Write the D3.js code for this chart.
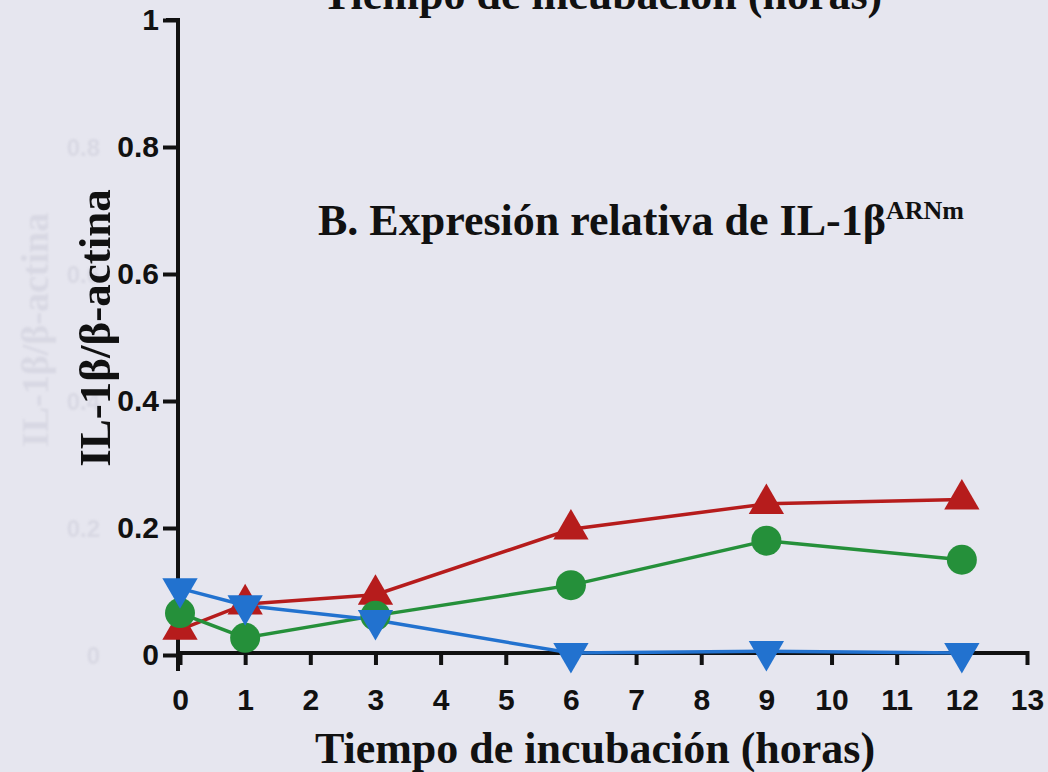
<!DOCTYPE html>
<html>
<head>
<meta charset="utf-8">
<script src="https://cdn.jsdelivr.net/npm/d3@7"></script>
<style>
  html, body { margin: 0; padding: 0; background: #e6e6ef; }
  svg { display: block; }
</style>
</head>
<body>
<svg id="chart" width="1048" height="772"></svg>
<script>
// Incubation times (hours) and IL-1β/β-actin ratios for the three conditions
const hours = [0, 1, 3, 6, 9, 12];
const redValues = [0.04, 0.08, 0.095, 0.198, 0.238, 0.245];
const greenValues = [0.066, 0.027, 0.062, 0.11, 0.18, 0.15];
const blueValues = [0.105, 0.078, 0.055, 0.003, 0.006, 0.003];
const xTicks = [0, 1, 2, 3, 4, 5, 6, 7, 8, 9, 10, 11, 12, 13];
const yTicks = [0, 0.2, 0.4, 0.6, 0.8, 1];
const yTickLabels = ["0", "0.2", "0.4", "0.6", "0.8", "1"];

const svg = d3.select("#chart");
const x = d3.scaleLinear().domain([0, 13]).range([180, 1027]);
const y = d3.scaleLinear().domain([0, 1]).range([655, 20]);

const serif = "'Liberation Serif', 'Times New Roman', serif";
const sans = "'Liberation Sans', Arial, sans-serif";

svg.append("rect").attr("width", 1048).attr("height", 772).attr("fill", "#e6e6ef");

// faint show-through of the facing page (left margin only)
const defs = svg.append("defs");
defs.append("filter").attr("id", "soft").append("feGaussianBlur").attr("stdDeviation", 1);
const ghost = svg.append("g").attr("fill", "#d8d8e3").attr("filter", "url(#soft)");
ghost.selectAll("text.gy").data(yTicks.slice(0, 5)).join("text")
  .attr("x", 100).attr("y", d => y(d) + 9)
  .attr("text-anchor", "end")
  .style("font", `bold 24px ${sans}`)
  .text((d, i) => yTickLabels[i]);
ghost.append("text")
  .attr("transform", "translate(48,330) rotate(-90)")
  .attr("text-anchor", "middle")
  .style("font", `bold 38px ${serif}`)
  .text("IL-1β/β-actina");

// partial axis title at the top (cut by the frame)
svg.append("text")
  .attr("x", 322).attr("y", 9)
  .attr("fill", "#111")
  .style("font", `bold 44px ${serif}`)
  .text("Tiempo de incubación (horas)");

// axes
const axisColor = "#111";
const yAxis = svg.append("g")
  .attr("transform", `translate(${x(0) - 2},0)`)
  .call(d3.axisLeft(y).tickValues(yTicks).tickSize(15).tickPadding(4)
    .tickFormat((d, i) => yTickLabels[i]));
const xAxis = svg.append("g")
  .attr("transform", `translate(0,${y(0) - 2})`)
  .call(d3.axisBottom(x).tickValues(xTicks).tickSize(12).tickPadding(24));
[xAxis, yAxis].forEach(g => {
  g.select(".domain").attr("stroke", axisColor).attr("stroke-width", 4);
  g.selectAll(".tick line").attr("stroke", axisColor).attr("stroke-width", 4);
  g.selectAll("text").attr("fill", axisColor)
    .style("font", `bold 30px ${sans}`);
});
xAxis.selectAll(".tick line").attr("y1", -2);
yAxis.select(".domain").attr("d", `M-12,${y(1)}H0V${y(0) + 16}`);
xAxis.select(".domain").attr("d", `M${x(0) - 2},0H${x(13)}`);

// axis titles
svg.append("text")
  .attr("transform", "translate(110,328) rotate(-90)")
  .attr("text-anchor", "middle")
  .attr("fill", "#111")
  .style("font", `bold 45px ${serif}`)
  .text("IL-1β/β-actina");
svg.append("text")
  .attr("x", 595).attr("y", 763)
  .attr("text-anchor", "middle")
  .attr("fill", "#111")
  .style("font", `bold 44px ${serif}`)
  .text("Tiempo de incubación (horas)");

// panel title with superscript
const title = svg.append("text")
  .attr("x", 318).attr("y", 235)
  .attr("fill", "#111")
  .style("font", `bold 44px ${serif}`);
title.append("tspan").text("B. Expresión relativa de IL-1β");
title.append("tspan").attr("dy", -16).style("font-size", "26px").text("ARNm");

// series
const series = [
  { name: "rojo", color: "#b61c1c", values: redValues, shape: "up" },
  { name: "verde", color: "#25903a", values: greenValues, shape: "circle" },
  { name: "azul", color: "#2272cf", values: blueValues, shape: "down" }
];
const line = d3.line().x(d => x(d[0])).y(d => y(d[1]));
const triUp = d3.symbol().type(d3.symbolTriangle).size(540);

series.forEach(s => {
  const pts = hours.map((h, i) => [h, s.values[i]]);
  svg.append("path").datum(pts)
    .attr("d", line).attr("fill", "none")
    .attr("stroke", s.color).attr("stroke-width", 3.5);
});
series.forEach(s => {
  const pts = hours.map((h, i) => [h, s.values[i]]);
  const g = svg.append("g").attr("fill", s.color);
  if (s.shape === "circle") {
    g.selectAll("circle").data(pts).join("circle")
      .attr("cx", d => x(d[0])).attr("cy", d => y(d[1])).attr("r", 15);
  } else {
    const rot = s.shape === "down" ? 180 : 0;
    g.selectAll("path").data(pts).join("path")
      .attr("d", triUp)
      .attr("transform", d => `translate(${x(d[0])},${y(d[1])}) rotate(${rot})`);
  }
});
</script>
</body>
</html>
